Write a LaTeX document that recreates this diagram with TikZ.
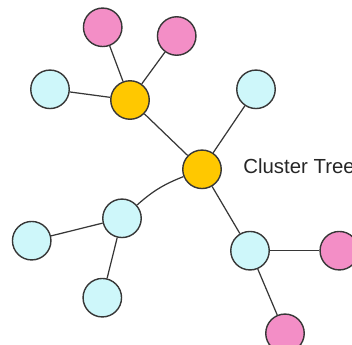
\documentclass[tikz,border=0pt]{standalone}
\usepackage{fontspec}
\setmainfont{Liberation Sans}
\definecolor{headyellow}{RGB}{255,200,0}
\definecolor{leafpink}{RGB}{243,142,198}
\definecolor{membercyan}{RGB}{206,247,250}
\definecolor{edgegray}{RGB}{55,55,55}
\begin{document}
\begin{tikzpicture}[x=0.02cm,y=-0.02cm,
	vertex/.style={circle,draw=edgegray,line width=0.8pt,minimum size=0.77cm,inner sep=0pt},
	head/.style={vertex,fill=headyellow},
	leaf/.style={vertex,fill=leafpink},
	member/.style={vertex,fill=membercyan},
	link/.style={draw=edgegray,line width=0.7pt}]
	\useasboundingbox (0,0) rectangle (352,345);
	% cluster heads
	\node[head] (hUp) at (130,100) {};
	\node[head] (hMid) at (202,169.3) {};
	% upper cluster
	\node[leaf] (pTopL) at (102.7,27.3) {};
	\node[leaf] (pTopR) at (176.7,36) {};
	\node[member] (cLeft) at (50,89.3) {};
	\node[member] (cUpR) at (256,89.3) {};
	% lower left cluster
	\node[member] (cMidL) at (122,218.3) {};
	\node[member] (cFarL) at (31.7,240.7) {};
	\node[member] (cBot) at (102.3,297.7) {};
	% lower right cluster
	\node[member] (cLowR) at (250,250.7) {};
	\node[leaf] (pRight) at (339.3,250.7) {};
	\node[leaf] (pBot) at (285,333.3) {};
	\node[anchor=base west,inner sep=0pt,text=black!85,font=\fontsize{11.6}{14}\selectfont] (lbl) at (243,173.3) {Cluster Tree};
	% links
	\draw[link] (hUp) -- (pTopL);
	\draw[link] (hUp) -- (pTopR);
	\draw[link] (hUp) -- (cLeft);
	\draw[link] (hUp) -- (hMid);
	\draw[link] (hMid) -- (cUpR);
	\draw[link] (hMid) to[bend right=10] (cMidL);
	\draw[link] (cMidL) -- (cFarL);
	\draw[link] (cMidL) -- (cBot);
	\draw[link] (hMid) -- (cLowR);
	\draw[link] (cLowR) -- (pRight);
	\draw[link] (cLowR) -- (pBot);
\end{tikzpicture}
\end{document}
